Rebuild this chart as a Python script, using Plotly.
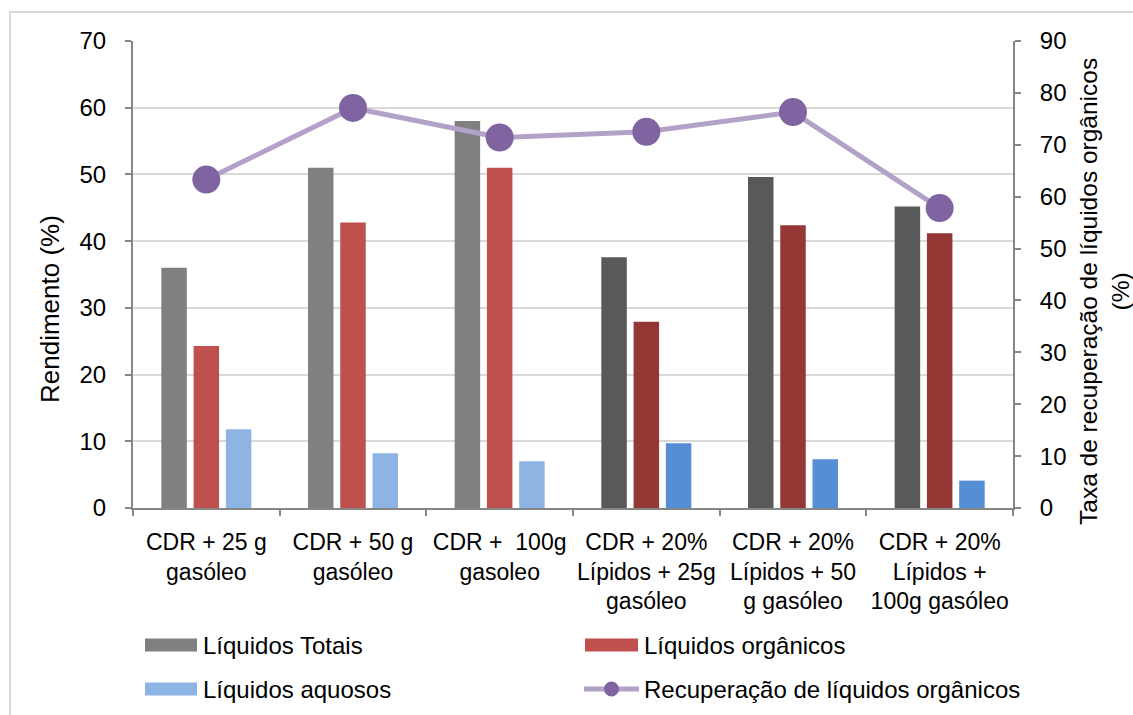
import plotly.graph_objects as go

# ---- data -------------------------------------------------------------
categories = [
    "CDR + 25 g<br>gasóleo",
    "CDR + 50 g<br>gasóleo",
    "CDR +\u00a0 100g<br>gasoleo",
    "CDR + 20%<br>Lípidos + 25g<br>gasóleo",
    "CDR + 20%<br>Lípidos + 50<br>g gasóleo",
    "CDR + 20%<br>Lípidos +<br>100g gasóleo",
]
liquidos_totais = [36.0, 51.0, 58.0, 37.6, 49.6, 45.2]
liquidos_organicos = [24.3, 42.8, 51.0, 27.9, 42.4, 41.2]
liquidos_aquosos = [11.8, 8.2, 7.0, 9.7, 7.3, 4.1]
recuperacao_organicos = [63.3, 77.1, 71.4, 72.5, 76.3, 57.8]

series_names = [
    "Líquidos Totais",
    "Líquidos orgânicos",
    "Líquidos aquosos",
    "Recuperação de líquidos orgânicos",
]
left_ticks = [0, 10, 20, 30, 40, 50, 60, 70]
right_ticks = [0, 10, 20, 30, 40, 50, 60, 70, 80, 90]

# ---- styling ----------------------------------------------------------
FONT = "Liberation Sans, Arial, sans-serif"
W, H = 1133, 715
ML, MR, MT, MB = 133, 120, 41, 207
PW, PH = W - ML - MR, H - MT - MB

# light shades for the diesel-only runs, dark shades for the lipid blends
light = {"tot": "#808080", "org": "#C0504D", "aq": "#8EB4E3"}
dark = {"tot": "#595959", "org": "#953735", "aq": "#558ED5"}
n_light = 3


def shade(key):
    return [light[key] if i < n_light else dark[key] for i in range(len(categories))]


LINE_C = "#B3A2C7"
MARK_C = "#8064A2"
AXIS_C = "#868686"
GRID_C = "#D9D9D9"


def px(x):
    return (x - ML) / PW


def py(y):
    return (H - MB - y) / PH


fig = go.Figure()
fig.add_trace(go.Bar(x=categories, y=liquidos_totais, name=series_names[0],
                     marker=dict(color=shade("tot"), line=dict(width=0))))
fig.add_trace(go.Bar(x=categories, y=liquidos_organicos, name=series_names[1],
                     marker=dict(color=shade("org"), line=dict(width=0))))
fig.add_trace(go.Bar(x=categories, y=liquidos_aquosos, name=series_names[2],
                     marker=dict(color=shade("aq"), line=dict(width=0))))
fig.add_trace(go.Scatter(x=categories, y=recuperacao_organicos, name=series_names[3],
                         yaxis="y2", mode="lines+markers",
                         line=dict(color=LINE_C, width=5),
                         marker=dict(color=MARK_C, size=28, line=dict(width=0))))

# ---- manual legend (two columns, two rows) -----------------------------
shapes = []
annotations = []
legend_rows = [645, 689]
legend_cols = [(145, 197), (585, 638)]
bar_colors = [light["tot"], light["org"], light["aq"]]
slots = [(0, 0), (0, 1), (1, 0), (1, 1)]
for i, name in enumerate(series_names):
    r, c = slots[i]
    yc = legend_rows[r]
    x0, x1 = legend_cols[c]
    if i < 3:
        shapes.append(dict(type="rect", xref="paper", yref="paper",
                           x0=px(x0), x1=px(x1), y0=py(yc + 6.5), y1=py(yc - 6.5),
                           fillcolor=bar_colors[i], line=dict(width=0)))
    else:
        shapes.append(dict(type="line", xref="paper", yref="paper",
                           x0=px(x0 - 1), x1=px(x1 + 1), y0=py(yc), y1=py(yc),
                           line=dict(color=LINE_C, width=5)))
        xm = (x0 + x1) / 2
        shapes.append(dict(type="circle", xref="paper", yref="paper",
                           x0=px(xm - 7.5), x1=px(xm + 7.5), y0=py(yc + 7.5), y1=py(yc - 7.5),
                           fillcolor=MARK_C, line=dict(width=0)))
    annotations.append(dict(text=name, xref="paper", yref="paper",
                            x=px(x1 + 4), y=py(yc), xanchor="left", yanchor="middle",
                            showarrow=False, font=dict(size=24, color="black", family=FONT)))

# axis titles
annotations.append(dict(text="Rendimento (%)", xref="paper", yref="paper",
                        x=px(50), y=py(309), textangle=-90, showarrow=False,
                        xanchor="center", yanchor="middle",
                        font=dict(size=26, color="black", family=FONT)))
annotations.append(dict(text="Taxa de recuperação de líquidos orgânicos<br>(%)",
                        xref="paper", yref="paper",
                        x=px(1104), y=py(292), textangle=-90, showarrow=False,
                        xanchor="center", yanchor="middle",
                        font=dict(size=24.5, color="black", family=FONT)))

# outer chart-area frame
shapes.append(dict(type="rect", xref="paper", yref="paper",
                   x0=px(10), x1=px(W + 20), y0=py(H + 20), y1=py(12),
                   line=dict(color=GRID_C, width=2), fillcolor="rgba(0,0,0,0)",
                   layer="below"))

fig.update_layout(
    width=W, height=H,
    margin=dict(l=ML, r=MR, t=MT, b=MB, pad=0),
    paper_bgcolor="white", plot_bgcolor="white",
    barmode="group", bargap=0.34, bargroupgap=0.21,
    showlegend=False,
    font=dict(family=FONT, color="black", size=22),
    xaxis=dict(
        type="category", range=[-0.5, 5.5],
        showline=True, linecolor=AXIS_C, linewidth=2,
        ticks="outside", tickson="boundaries", ticklen=6, tickcolor=AXIS_C, tickwidth=2,
        tickangle=0,
        tickfont=dict(size=23, family=FONT, color="black"),
        ticklabelstandoff=12,
        showgrid=False,
    ),
    yaxis=dict(
        range=[0, 70], tickvals=left_ticks,
        showline=True, linecolor=AXIS_C, linewidth=2,
        ticks="outside", ticklen=6, tickcolor=AXIS_C, tickwidth=2,
        showgrid=True, gridcolor=GRID_C, gridwidth=1.5, zeroline=False,
        tickfont=dict(size=24, family=FONT, color="black"),
        ticklabelstandoff=14,
    ),
    yaxis2=dict(
        range=[0, 90], tickvals=right_ticks, overlaying="y", side="right",
        showline=True, linecolor=AXIS_C, linewidth=2,
        ticks="outside", ticklen=6, tickcolor=AXIS_C, tickwidth=2,
        showgrid=False, zeroline=False,
        tickfont=dict(size=24, family=FONT, color="black"),
        ticklabelstandoff=14,
    ),
    shapes=shapes,
    annotations=annotations,
)

fig.write_html("out.html")
